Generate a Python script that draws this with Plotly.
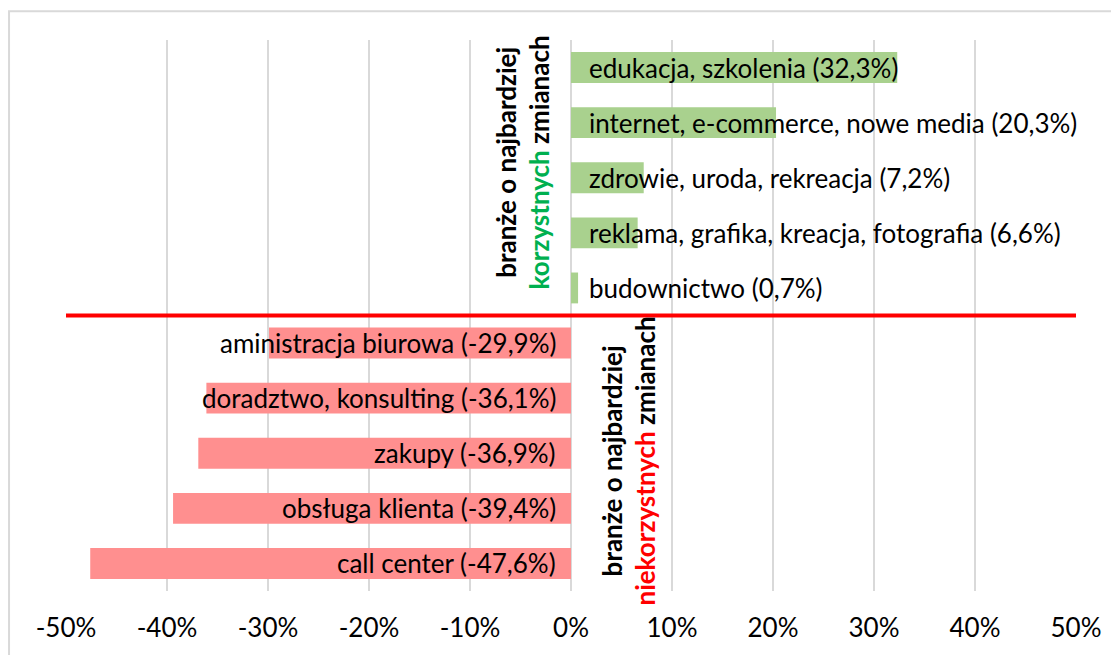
"""Branże o najbardziej korzystnych / niekorzystnych zmianach - wykres słupkowy."""

import plotly.graph_objects as go

# Dane
categories = [
    "edukacja, szkolenia",
    "internet, e-commerce, nowe media",
    "zdrowie, uroda, rekreacja",
    "reklama, grafika, kreacja, fotografia",
    "budownictwo",
    "aministracja biurowa",
    "doradztwo, konsulting",
    "zakupy",
    "obsługa klienta",
    "call center",
]
values = [32.3, 20.3, 7.2, 6.6, 0.7, -29.9, -36.1, -36.9, -39.4, -47.6]
tick_vals = [-50, -40, -30, -20, -10, 0, 10, 20, 30, 40, 50]
tick_text = ["-50%", "-40%", "-30%", "-20%", "-10%", "0%", "10%", "20%", "30%", "40%", "50%"]

GREEN = "#a9d18e"
PINK = "#ff8f8f"
FONT = "Lato"

colors = [GREEN if v >= 0 else PINK for v in values]

fig = go.Figure(go.Bar(
    x=values,
    y=categories,
    orientation="h",
    marker=dict(color=colors, line=dict(width=0)),
    width=0.56,
    hoverinfo="skip",
))

# Etykiety przy osi zero
for name, v in zip(categories, values):
    label = f"{name} ({str(v).replace('.', ',')}%)"
    fig.add_annotation(
        x=0, y=name, xref="x", yref="y",
        text=label, showarrow=False,
        xanchor="left" if v >= 0 else "right",
        xshift=16 if v >= 0 else -13,
        font=dict(family=FONT, size=26, color="#000000"),
    )

# Opisy pionowe
fig.add_annotation(
    x=-4.8, y=0.777, xref="x", yref="paper",
    xanchor="center", yanchor="middle",
    text="<b>branże o najbardziej</b><br><b><span style='color:#00b050'>korzystnych</span> zmianach</b>",
    textangle=-90, showarrow=False, align="center",
    font=dict(family=FONT, size=26, color="#000000"),
)
fig.add_annotation(
    x=5.7, y=0.236, xref="x", yref="paper",
    xanchor="center", yanchor="middle",
    text="<b>branże o najbardziej</b><br><b><span style='color:#ff0000'>niekorzystnych</span> zmianach</b>",
    textangle=-90, showarrow=False, align="center",
    font=dict(family=FONT, size=26, color="#000000"),
)

# Czerwona linia podziału
fig.add_shape(
    type="line", xref="paper", yref="y",
    x0=0, x1=1, y0=4.5, y1=4.5,
    line=dict(color="#ff0000", width=4),
)

# Ramka wykresu
fig.add_shape(
    type="rect", xref="paper", yref="paper",
    x0=-0.0564, x1=1.06, y0=1.052, y1=-0.12,
    line=dict(color="#d9d9d9", width=2),
    layer="below",
)

fig.update_layout(
    width=1111,
    height=647,
    margin=dict(l=58, r=43, t=32, b=55),
    paper_bgcolor="white",
    plot_bgcolor="white",
    showlegend=False,
    xaxis=dict(
        range=[-50, 50],
        tickvals=tick_vals,
        ticktext=tick_text,
        showgrid=True,
        gridcolor="#d9d9d9",
        gridwidth=2,
        zeroline=False,
        showline=False,
        ticks="outside",
        ticklen=14,
        tickcolor="rgba(0,0,0,0)",
        tickfont=dict(family=FONT, size=26, color="#000000"),
        fixedrange=True,
    ),
    yaxis=dict(
        range=[9.5, -0.5],
        showticklabels=False,
        showgrid=False,
        zeroline=False,
        showline=False,
        fixedrange=True,
    ),
)

fig.write_html("out.html")
